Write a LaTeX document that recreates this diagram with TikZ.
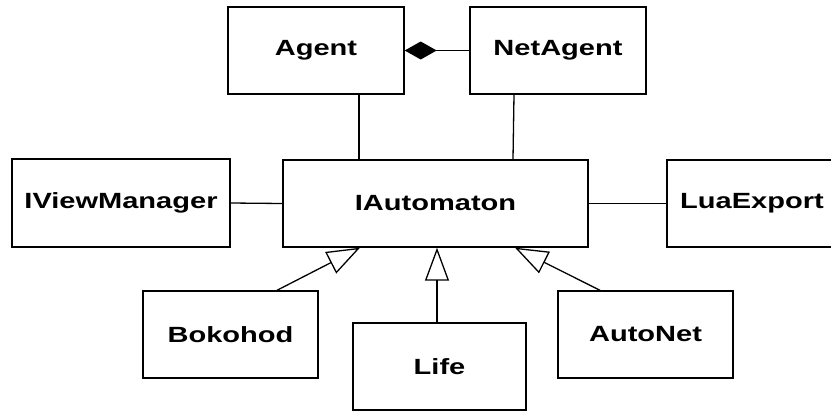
\documentclass[tikz,border=0pt]{standalone}
\usepackage{fontspec}
\usepackage{tikz}
\usetikzlibrary{arrows.meta}
\newfontfamily\umlfont{Liberation Sans}[FakeStretch=1.32]

\begin{document}
\begin{tikzpicture}[x=1pt,y=-1pt,
  class/.style={draw,line width=1.4pt,rectangle,inner sep=0pt,
    minimum height=87pt,font=\umlfont\bfseries\fontsize{22}{26}\selectfont},
  inherit/.style={line width=1.3pt,-{Triangle[open,length=33pt,width=24pt]}},
  assoc/.style={line width=1.3pt}]
\clip (0,0) rectangle (831,413);

\node[class,minimum width=176pt] (agent) at (316,50.5) {Agent};
\node[class,minimum width=176pt] (netagent) at (558,50.5) {NetAgent};
\node[class,minimum width=218pt,minimum height=88pt] (viewmgr) at (121,203) {IViewManager};
\node[class,minimum width=305pt] (automaton) at (435.5,203.5) {IAutomaton};
\node[class,minimum width=170pt] (luaexport) at (752,203.5) {LuaExport};
\node[class,minimum width=175pt] (bokohod) at (230.5,334.5) {Bokohod};
\node[class,minimum width=173pt] (life) at (439.5,366.5) {Life};
\node[class,minimum width=175pt] (autonet) at (645.5,334.5) {AutoNet};

% composition
\draw[assoc,{Diamond[length=32pt,width=18pt]}-] (agent.east) -- (netagent.west);

% associations
\draw[assoc] ([xshift=43pt]agent.south) -- ([xshift=-76.5pt]automaton.north);
\draw[assoc] ([xshift=-44pt]netagent.south) -- ([xshift=77.5pt]automaton.north);
\draw[assoc] (viewmgr.east) -- (automaton.west);
\draw[assoc] (automaton.east) -- (luaexport.west);

% inheritance
\draw[inherit] ([xshift=46.5pt]bokohod.north) -- ([xshift=-75.5pt]automaton.south);
\draw[inherit] ([xshift=-2.5pt]life.north) -- ([xshift=1.5pt]automaton.south);
\draw[inherit] ([xshift=-45.5pt]autonet.north) -- ([xshift=79.5pt]automaton.south);

\end{tikzpicture}
\end{document}
